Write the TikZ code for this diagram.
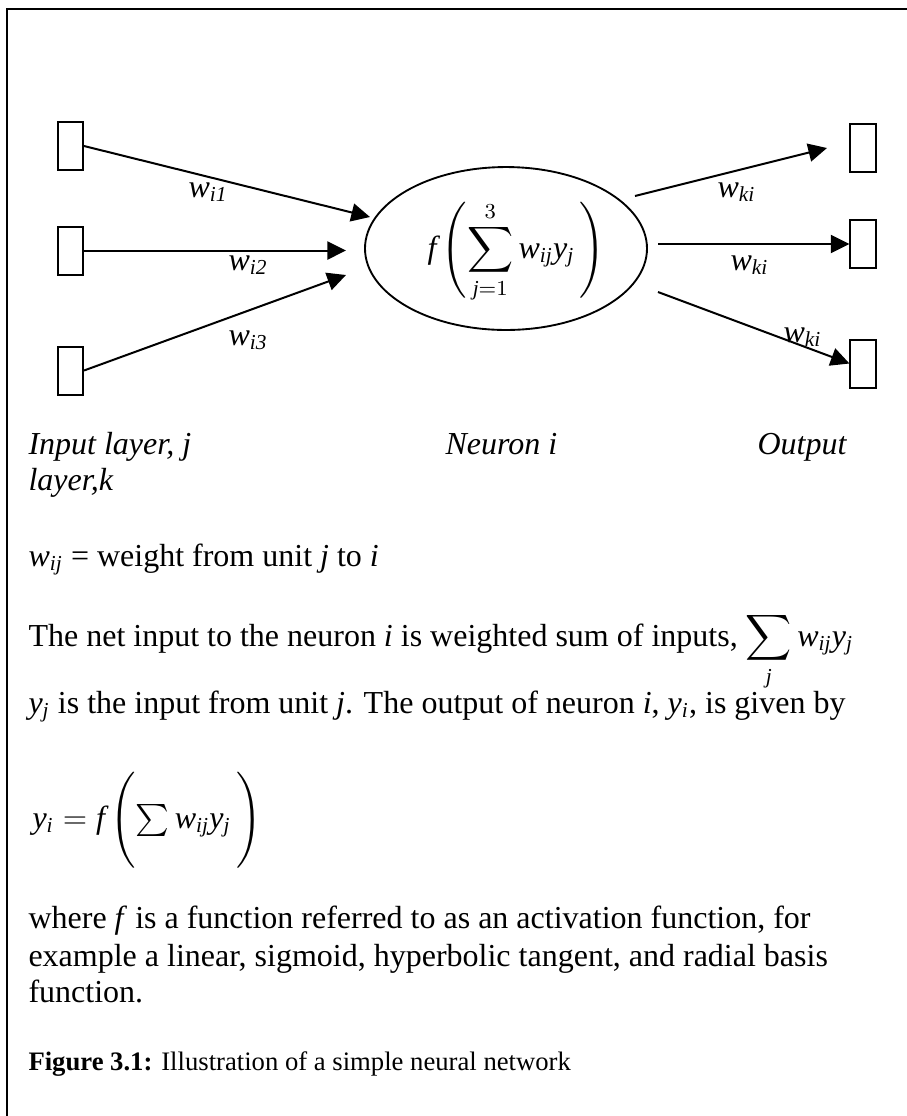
\documentclass[tikz,border=0pt]{standalone}
\usepackage{amsmath}
\usepackage{exscale}
\usepackage{fontspec}
\setmainfont{Liberation Serif}
\usepackage{tikz}
\usetikzlibrary{arrows.meta}
\usetikzlibrary{shapes.geometric}

\begin{document}
\begin{tikzpicture}[x=0.375pt,y=-0.375pt,
                    font=\fontsize{12pt}{13.8pt}\selectfont]
\useasboundingbox (0,0) rectangle (907,1116);
\draw [line width=0.8pt] (7,1116) -- (7,9) -- (907,9);
\begin{scope}[every node/.style={rectangle,draw,line width=0.75pt,
              minimum width=9.4pt,minimum height=18pt,inner sep=0pt}]
    \node (ib1) at (70.5,146) {};
    \node (ib2) at (70.5,250.5) {};
    \node (ib3) at (70.5,370.5) {};
    \node (ob1) at (863,147.5) {};
    \node (ob2) at (863,244) {};
    \node (ob3) at (863,363.5) {};
\end{scope}
\node [ellipse,draw,line width=0.7pt,minimum width=105.75pt,
       minimum height=61.1pt,inner sep=0pt] (neuron) at (506,248.5) {};
\node [anchor=base west,inner sep=0pt] (act) at (427,258)
    {$\mathit{f}\left(\vrule height 19pt depth 13pt width 0pt\displaystyle\sum_{\mathit{j}=1}^{3}\mathit{w}_{\mathit{ij}}\mathit{y}_{\mathit{j}}\,\right)$};
\coordinate (i1) at (370,217);
\coordinate (i2) at (346,250.5);
\coordinate (i3) at (346,275);
\coordinate (o1) at (635,196);
\coordinate (o2) at (658,244);
\coordinate (o3) at (658,292);
\coordinate (t1) at (827,148);
\begin{scope}[>={Triangle[length=7pt,width=6.8pt]},
              every node/.style={inner sep=0pt,anchor=base west},
              conn/.style={draw=black,line width=0.75pt}]
    \path [->] (ib1.east) edge [conn] (i1);
    \path [->] (ib2.east) edge [conn] (i2);
    \path [->] (ib3.east) edge [conn] (i3);
    \path [->] (o1) edge [conn] (t1);
    \path [->] (o2) edge [conn] (ob2.west);
    \path [->] (o3) edge [conn] (ob3.west);
    \node (wi1) at (188,197) {$\mathit{w}_{\mathit{i1}}$};
    \node (wi2) at (228,270) {$\mathit{w}_{\mathit{i2}}$};
    \node (wi3) at (228,345) {$\mathit{w}_{\mathit{i3}}$};
    \node (wk1) at (717,197) {$\mathit{w}_{\mathit{ki}}$};
    \node (wk2) at (730,270) {$\mathit{w}_{\mathit{ki}}$};
    \node (wk3) at (783,342) {$\mathit{w}_{\mathit{ki}}$};
\end{scope}
% text below the network
\begin{scope}[every node/.style={inner sep=0pt,anchor=base west}]
    \node (inlab) at (28,454) {\textit{Input layer, j}};
    \node (inlab2) at (28,490) {\textit{layer,k}};
    \node (neulab) at (445,454) {\textit{Neuron i}};
    \node (outlab) at (757,454) {\textit{Output}};
    \node (wdef) at (28,566) {$\mathit{w}_{\mathit{ij}}$ = weight from unit \textit{j} to \textit{i}};
    \node (net) at (28,646) {The net input to the neuron \textit{i} is weighted sum of inputs,
        $\displaystyle\sum_{\mathit{j}}\mathit{w}_{\mathit{ij}}\mathit{y}_{\mathit{j}}$};
    \node (yin) at (28,713) {$\mathit{y}_{\mathit{j}}$ is the input from unit \textit{j}. The output of neuron \textit{i}, $\mathit{y}_{\mathit{i}}$, is given by};
    \node (yout) at (32,828) {$\mathit{y}_{\mathit{i}} = \mathit{f}\left(\vrule height 19pt depth 13pt width 0pt\sum \mathit{w}_{\mathit{ij}}\mathit{y}_{\mathit{j}}\,\right)$};
    \node (where1) at (28,928) {where \textit{f} is a function referred to as an activation function, for};
    \node (where2) at (28,966) {example a linear, sigmoid, hyperbolic tangent, and radial basis};
    \node (where3) at (28,1002) {function.};
    \node [font=\fontsize{10pt}{12pt}\selectfont] (cap) at (28,1070)
        {\textbf{Figure 3.1:} Illustration of a simple neural network};
\end{scope}
\end{tikzpicture}
\end{document}
